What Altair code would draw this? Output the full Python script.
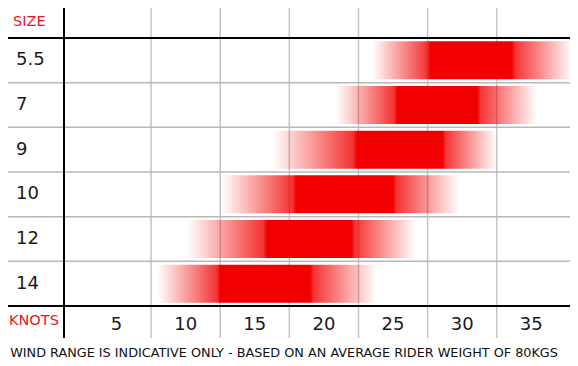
import altair as alt
import pandas as pd

# ---- data ----
sizes = ["5.5", "7", "9", "10", "12", "14"]
fade_start = [23.5, 20.9, 16.3, 12.6, 10.1, 8.0]
solid_start = [27.7, 25.3, 22.4, 18.0, 15.9, 12.5]
solid_end = [33.6, 31.1, 28.6, 25.0, 22.0, 19.0]
fade_end = [38.0, 35.4, 32.5, 29.8, 26.6, 23.8]

knot_ticks = [5, 10, 15, 20, 25, 30, 35]
grid_knots = [7.5, 12.5, 17.5, 22.5, 27.5, 32.5]

size_title = "SIZE"
knots_title = "KNOTS"
footnote = "WIND RANGE IS INDICATIVE ONLY - BASED ON AN AVERAGE RIDER WEIGHT OF 80KGS"

# ---- tables ----
bars = pd.DataFrame({
    "size": sizes,
    "start": fade_start,
    "solid_start": solid_start,
    "solid_end": solid_end,
    "end": fade_end,
})
ticks_df = pd.DataFrame({"knots": knot_ticks, "label": [str(k) for k in knot_ticks]})
grid_df = pd.DataFrame({"knots": grid_knots})
rows_df = pd.DataFrame({"size": sizes[1:]})
labels_df = pd.DataFrame({"size": sizes})

W, H = 506, 268
RED = "242,0,0"
FONT = "DejaVu Sans"

xs = alt.Scale(domain=[1.2, 37.8], nice=False, zero=False)
ys = alt.Scale(domain=sizes, paddingInner=0, paddingOuter=0)


def row_gradient(row):
    """Horizontal gradient: fade in, solid core, fade out (relative to the bar)."""
    span = row["end"] - row["start"]
    a = (row["solid_start"] - row["start"]) / span
    b = (row["solid_end"] - row["start"]) / span
    stops = [
        (0.0, 0.0),
        (a * 0.95, 0.8),
        (a, 1.0),
        (b, 1.0),
        (b + (1 - b) * 0.05, 0.8),
        (1.0, 0.0),
    ]
    return {
        "gradient": "linear", "x1": 0, "x2": 1, "y1": 0, "y2": 0,
        "stops": [{"offset": round(o, 4), "color": f"rgba({RED},{al})"} for o, al in stops],
    }


vgrid = alt.Chart(grid_df).mark_rule(color="#c4c4c4", strokeWidth=1.5).encode(
    x=alt.X("knots:Q", scale=xs, axis=None),
    y=alt.value(-30), y2=alt.value(300),
)

hgrid = alt.Chart(rows_df).mark_rule(color="#b8b8b8", strokeWidth=1.5).encode(
    y=alt.Y("size:N", scale=ys, axis=None, bandPosition=0),
    x=alt.value(-56), x2=alt.value(W),
)

bar_layers = []
for i in range(len(bars)):
    row = bars.iloc[i]
    bar_layers.append(
        alt.Chart(bars.iloc[[i]]).mark_bar(
            fill=row_gradient(row), height={"band": 0.85}
        ).encode(
            x=alt.X("start:Q", scale=xs, axis=None), x2="end:Q",
            y=alt.Y("size:N", scale=ys, axis=None),
        )
    )

top_line = alt.Chart(labels_df).mark_rule(color="black", strokeWidth=2).encode(
    y=alt.value(0), x=alt.value(-56), x2=alt.value(W))
bottom_line = alt.Chart(labels_df).mark_rule(color="black", strokeWidth=2).encode(
    y=alt.value(H), x=alt.value(-56), x2=alt.value(W))
left_line = alt.Chart(labels_df).mark_rule(color="black", strokeWidth=2).encode(
    x=alt.value(0), y=alt.value(-30), y2=alt.value(300))

size_labels = alt.Chart(labels_df).mark_text(
    align="left", baseline="middle", font=FONT, fontSize=18, color="#1a1a1a"
).encode(
    y=alt.Y("size:N", scale=ys, axis=None), x=alt.value(-48), text="size:N")

x_labels = alt.Chart(ticks_df).mark_text(
    align="center", baseline="middle", font=FONT, fontSize=18, color="#1a1a1a"
).encode(
    x=alt.X("knots:Q", scale=xs, axis=None), y=alt.value(287), text="label:N")

size_head = alt.Chart(pd.DataFrame({"t": [size_title]})).mark_text(
    align="left", baseline="middle", font=FONT, fontSize=14.5, color="#e8141c"
).encode(x=alt.value(-51), y=alt.value(-16), text="t:N")

knots_head = alt.Chart(pd.DataFrame({"t": [knots_title]})).mark_text(
    align="left", baseline="middle", font=FONT, fontSize=14.5, color="#e8141c"
).encode(x=alt.value(-55), y=alt.value(283), text="t:N")

note = alt.Chart(pd.DataFrame({"t": [footnote]})).mark_text(
    align="center", baseline="middle", font=FONT, fontSize=12.8, color="#111111"
).encode(x=alt.value(220), y=alt.value(315), text="t:N")

chart = alt.layer(
    vgrid, hgrid, *bar_layers, top_line, bottom_line, left_line,
    size_labels, x_labels, size_head, knots_head, note,
).properties(
    width=W, height=H,
    autosize=alt.AutoSizeParams(type="none"),
    padding={"left": 56, "top": 30, "right": 0, "bottom": 54},
    background="white",
).configure_view(stroke="transparent")

chart.save("out.html", embed_options={"renderer": "svg", "actions": False})
